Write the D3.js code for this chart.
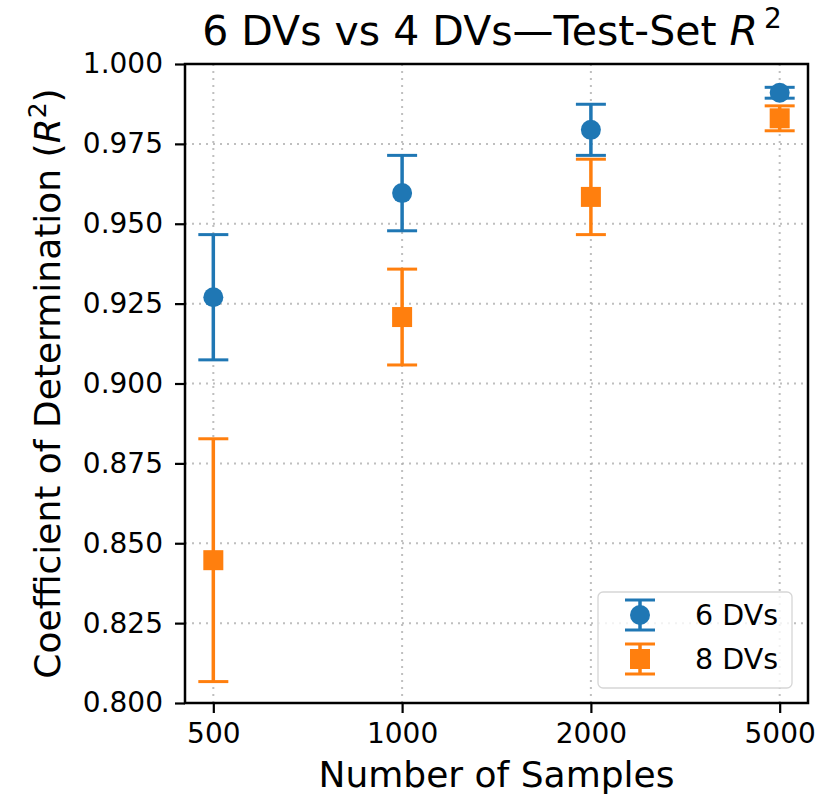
<!DOCTYPE html>
<html><head><meta charset="utf-8">
<script src="https://cdn.jsdelivr.net/npm/d3@7"></script>
<style>body{margin:0;background:#fff}svg{display:block}text{font-family:"DejaVu Sans",sans-serif}</style>
</head><body><svg id="c" width="826" height="799"></svg>
<script>
const categories = ["500","1000","2000","5000"];
const seriesNames = ["6 DVs","8 DVs"];
const mean6 = [0.927,0.9596,0.9794,0.991];
const err6 = [0.0196,0.0118,0.008,0.0017];
const mean8 = [0.8447,0.9208,0.9584,0.983];
const err8 = [0.038,0.015,0.0118,0.0039];
const yTicks = [0.800,0.825,0.850,0.875,0.900,0.925,0.950,0.975,1.000];
const colors = ["#1f77b4","#ff7f0e"];

const svg = d3.select("#c");
const L=185,R=808,T=64,B=703;
const x = d3.scalePoint().domain(categories).range([L,R]).padding(0.15);
const y = d3.scaleLinear().domain([0.8,1.0]).range([B,T]);

// grid
const g = svg.append("g");
g.selectAll(".gx").data(categories).join("line")
 .attr("x1",d=>x(d)).attr("x2",d=>x(d)).attr("y1",T).attr("y2",B)
 .attr("stroke","#b0b0b0").attr("stroke-width",2).attr("stroke-dasharray","2,5").attr("opacity",0.8);
g.selectAll(".gy").data(yTicks).join("line")
 .attr("y1",d=>y(d)).attr("y2",d=>y(d)).attr("x1",L).attr("x2",R)
 .attr("stroke","#b0b0b0").attr("stroke-width",2).attr("stroke-dasharray","2,5").attr("opacity",0.8);

// axes
const xAxis = d3.axisBottom(x).tickSize(10).tickPadding(10);
const yAxis = d3.axisLeft(y).tickValues(yTicks).tickFormat(d3.format(".3f")).tickSize(10).tickPadding(12);
const gx = svg.append("g").attr("transform",`translate(0,${B})`).call(xAxis);
const gy = svg.append("g").attr("transform",`translate(${L},0)`).call(yAxis);
[gx,gy].forEach(a=>{
  a.select(".domain").remove();
  a.selectAll(".tick line").attr("stroke","#000").attr("stroke-width",2.2);
  a.selectAll(".tick text").attr("fill","#000").style("font-size","28px").style("font-family","DejaVu Sans");
});
svg.append("rect").attr("x",L).attr("y",T).attr("width",R-L).attr("height",B-T)
 .attr("fill","none").attr("stroke","#000").attr("stroke-width",2.5);

// series
function drawSeries(means, errs, color, shape){
  const s = svg.append("g");
  means.forEach((m,i)=>{
    const cx = x(categories[i]);
    const y0=y(m-errs[i]), y1=y(m+errs[i]);
    s.append("line").attr("x1",cx).attr("x2",cx).attr("y1",y0).attr("y2",y1).attr("stroke",color).attr("stroke-width",3.5);
    [y0,y1].forEach(yy=>s.append("line").attr("x1",cx-15).attr("x2",cx+15).attr("y1",yy).attr("y2",yy).attr("stroke",color).attr("stroke-width",3));
    if(shape==="circle") s.append("circle").attr("cx",cx).attr("cy",y(m)).attr("r",10).attr("fill",color);
    else s.append("rect").attr("x",cx-10).attr("y",y(m)-10).attr("width",20).attr("height",20).attr("fill",color);
  });
}
drawSeries(mean6,err6,colors[0],"circle");
drawSeries(mean8,err8,colors[1],"square");

// legend
const lg = svg.append("g");
lg.append("rect").attr("x",598).attr("y",592).attr("width",194).attr("height",96).attr("rx",5)
 .attr("fill","#fff").attr("fill-opacity",0.8).attr("stroke","#d6d6d6").attr("stroke-width",1.3);
seriesNames.forEach((n,i)=>{
  const cy = 615+i*44, cx=640, col=colors[i];
  lg.append("line").attr("x1",cx).attr("x2",cx).attr("y1",cy-15).attr("y2",cy+15).attr("stroke",col).attr("stroke-width",3.5);
  [cy-15,cy+15].forEach(yy=>lg.append("line").attr("x1",cx-15).attr("x2",cx+15).attr("y1",yy).attr("y2",yy).attr("stroke",col).attr("stroke-width",3));
  if(i===0) lg.append("circle").attr("cx",cx).attr("cy",cy).attr("r",10).attr("fill",col);
  else lg.append("rect").attr("x",cx-10).attr("y",cy-10).attr("width",20).attr("height",20).attr("fill",col);
  lg.append("text").attr("x",695).attr("y",cy+10).style("font-size","28.5px").text(n);
});

// labels
svg.append("text").attr("x",(L+R)/2).attr("y",787).attr("text-anchor","middle").style("font-size","36px").text("Number of Samples");
const yl = svg.append("text").attr("transform",`translate(60,${(T+B)/2}) rotate(-90)`).attr("text-anchor","middle").style("font-size","36px");
yl.append("tspan").text("Coefficient of Determination (");
yl.append("tspan").style("font-style","italic").text("R");
yl.append("tspan").attr("dy",-14).style("font-size","25px").text("2");
yl.append("tspan").attr("dy",14).text(")");
const tt = svg.append("text").attr("x",492).attr("y",45).attr("text-anchor","middle").style("font-size","41px");
tt.append("tspan").text("6 DVs vs 4 DVs\u2014Test-Set ");
tt.append("tspan").style("font-style","italic").text("R");
tt.append("tspan").attr("dx",6).attr("dy",-17).style("font-size","28px").text("2");
</script></body></html>
